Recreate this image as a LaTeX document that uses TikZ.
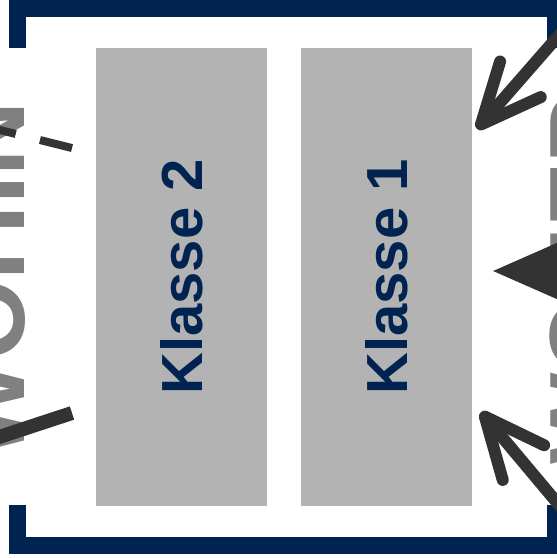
\documentclass[tikz,border=0pt]{standalone}
\usepackage{fontspec}
\setmainfont{Liberation Sans}
\usepackage{graphicx}
\usepackage{tikz}
\usetikzlibrary{arrows.meta,positioning}
\definecolor{klNavy}{HTML}{002352}
\definecolor{klGrey}{HTML}{B3B3B3}
\definecolor{klWord}{HTML}{808080}
\definecolor{klInk}{HTML}{333333}

\begin{document}
\begin{tikzpicture}[
  x=1pt, y=-1pt,
  node distance=34pt,
  box/.style={fill=klGrey, inner sep=0pt, minimum width=170.5pt, minimum height=458pt,
    text=klNavy, font=\fontsize{58}{60}\selectfont\bfseries},
  word/.style={rotate=90, anchor=base, inner sep=0pt, text=klWord},
  bracket/.style={draw=klNavy, line width=17pt},
  flow/.style={draw=klInk, line width=12pt, -{Straight Barb[length=60pt,width=54pt,round]}},
  bighead/.style={draw=klInk, line width=20pt, -{Triangle[length=100pt,width=80pt]}},
  away/.style={draw=klInk}
]
  \useasboundingbox (0,0) rectangle (557,558);
  \clip (0,0) rectangle (557,558);
  % frame
  \draw[bracket] (17.5,48) -- (17.5,8.5) -- (555,8.5) -- (555,48);
  \draw[bracket] (17.5,505) -- (17.5,545) -- (555,545) -- (555,505);
  % classes
  \node[box] (klasseZwei) at (181.5,277) {\rotatebox{90}{Klasse 2}};
  \node[box,right=of klasseZwei] (klasseEins) {\rotatebox{90}{Klasse 1}};
  % side words
  \node[word,font=\fontsize{104}{110}\selectfont\bfseries] (wohinText) at (24,280) {WOHIN};
  \node[word,font=\fontsize{97}{100}\selectfont\bfseries] (woherText) at (617,279) {WOHER};
  % out of class 2
  \coordinate (wohinOben) at (72,148);
  \coordinate (wohinObenFern) at (-80,110);
  \coordinate (wohinUnten) at (72,413);
  \coordinate (wohinUntenFern) at (-80,463);
  \draw[away,line width=8pt,dash pattern=on 33pt off 25pt] (wohinOben) -- (wohinObenFern);
  \draw[away,line width=14pt] (wohinUnten) -- (wohinUntenFern);
  % into class 1
  \coordinate (woherOben) at (581,10);
  \coordinate (woherMitte) at (650,271);
  \coordinate (woherUnten) at (580,530);
  \draw[flow] (woherOben) -- (477,129) coordinate (spitzeOben);
  \draw[bighead] (woherMitte) -- (491,271) coordinate (spitzeMitte);
  \draw[flow] (woherUnten) -- (481,412) coordinate (spitzeUnten);
\end{tikzpicture}
\end{document}
